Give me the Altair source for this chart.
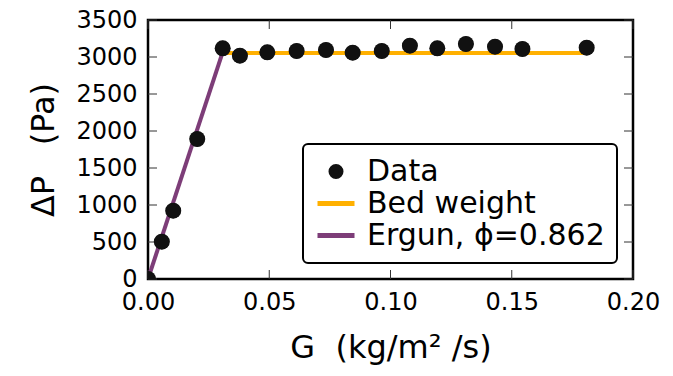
import altair as alt
import pandas as pd

# Data
data_G = [0.0, 0.0057, 0.0104, 0.0203, 0.0308, 0.0379, 0.0492, 0.0613, 0.0734,
          0.0844, 0.0964, 0.1080, 0.1193, 0.1311, 0.1431, 0.1544, 0.1809]
data_P = [0, 504, 923, 1892, 3117, 3018, 3063, 3081, 3095,
          3058, 3081, 3153, 3117, 3176, 3139, 3108, 3126]

bed_G = [0.0307, 0.1809]
bed_P = [3055, 3055]

ergun_G = [0.0, 0.0307]
ergun_P = [0, 3055]

series_names = ["Data", "Bed weight", "Ergun, \u03d5=0.862"]
series_colors = ["#111111", "#ffb000", "#7d3d78"]
series_shapes = ["circle", "stroke", "stroke"]
legend_sizes = [100, 1369, 1369]

x_ticks = [0.0, 0.05, 0.10, 0.15, 0.20]
y_ticks = [0, 500, 1000, 1500, 2000, 2500, 3000, 3500]

W, H = 485, 259
TL = 9  # inner tick length
FONT = "DejaVu Sans"

df_data = pd.DataFrame({"G": data_G, "P": data_P, "s": series_names[0]})
df_bed = pd.DataFrame({"G": bed_G, "P": bed_P})
df_erg = pd.DataFrame({"G": ergun_G, "P": ergun_P})
df_xt = pd.DataFrame({"G": x_ticks})
df_yt = pd.DataFrame({"P": y_ticks})

xs = alt.Scale(domain=[0, 0.2], nice=False, zero=False)
ys = alt.Scale(domain=[0, 3500], nice=False, zero=False)
cs = alt.Scale(domain=series_names, range=series_colors)

x_axis = alt.Axis(
    values=x_ticks, format=".2f", ticks=False, domain=False,
    grid=False, labelFontSize=24, labelFont=FONT, labelColor="black",
    labelPadding=11, labelFlush=False,
    title="G\u00a0\u00a0(kg/m\u00b2\u00a0/s)", titleFontSize=32, titleFont=FONT,
    titleFontWeight="normal", titleColor="black", titlePadding=18)
y_axis = alt.Axis(
    values=y_ticks, format="d", ticks=False, domain=False,
    grid=False, labelFontSize=24, labelFont=FONT, labelColor="black",
    labelPadding=11, labelFlush=False, labelOverlap=False,
    title="\u0394P\u00a0\u00a0\u00a0(Pa)", titleFontSize=32, titleFont=FONT,
    titleFontWeight="normal", titleColor="black", titlePadding=15)

X = lambda f: alt.X(f, scale=xs, axis=x_axis)
Y = lambda f: alt.Y(f, scale=ys, axis=y_axis)

legend = alt.Legend(
    title=None, orient="bottom-right", offset=16,
    padding=12, rowPadding=1, clipHeight=31,
    symbolStrokeWidth=5, symbolOpacity=1,
    labelFontSize=30, labelFont=FONT, labelColor="black", labelOffset=10,
    labelLimit=400, fillColor="white", strokeColor="black", cornerRadius=5,
)

tick_style = dict(color="#333333", strokeWidth=1)
xt_bottom = alt.Chart(df_xt).mark_rule(**tick_style).encode(
    x=X("G:Q"), y=alt.value(H), y2=alt.value(H - TL))
xt_top = alt.Chart(df_xt).mark_rule(**tick_style).encode(
    x=X("G:Q"), y=alt.value(0), y2=alt.value(TL))
yt_left = alt.Chart(df_yt).mark_rule(**tick_style).encode(
    y=Y("P:Q"), x=alt.value(0), x2=alt.value(TL))
yt_right = alt.Chart(df_yt).mark_rule(**tick_style).encode(
    y=Y("P:Q"), x=alt.value(W), x2=alt.value(W - TL))

ergun = alt.Chart(df_erg).mark_line(strokeWidth=4, clip=True, color=series_colors[2]).encode(
    x=X("G:Q"), y=Y("P:Q"))

bed = alt.Chart(df_bed).mark_line(strokeWidth=4, clip=True, color=series_colors[1]).encode(
    x=X("G:Q"), y=Y("P:Q"))

# legend carrier (hidden underneath the data markers)
carrier = alt.Chart(df_data).mark_point(filled=True, opacity=1, strokeWidth=5, clip=True).encode(
    x=X("G:Q"), y=Y("P:Q"),
    fill=alt.Fill("s:N", scale=cs, legend=legend),
    stroke=alt.Stroke("s:N", scale=cs, legend=legend),
    shape=alt.Shape("s:N", scale=alt.Scale(domain=series_names, range=series_shapes), legend=legend),
    size=alt.Size("s:N", scale=alt.Scale(type="ordinal", domain=series_names, range=legend_sizes), legend=legend),
)

points = alt.Chart(df_data).mark_point(filled=True, size=256, opacity=1, clip=True,
                                       color=series_colors[0]).encode(
    x=X("G:Q"), y=Y("P:Q"))

chart = alt.layer(xt_bottom, xt_top, yt_left, yt_right,
                  ergun, bed, carrier, points).properties(
    width=W, height=H,
    autosize=alt.AutoSizeParams(type="none"),
    padding={"left": 140, "top": 12, "right": 30, "bottom": 86},
    background="white",
).configure_view(
    stroke="black", strokeWidth=2.5
).configure_legend(
    strokeWidth=2
)

chart.save("out.html", embed_options={"renderer": "svg", "actions": False})
